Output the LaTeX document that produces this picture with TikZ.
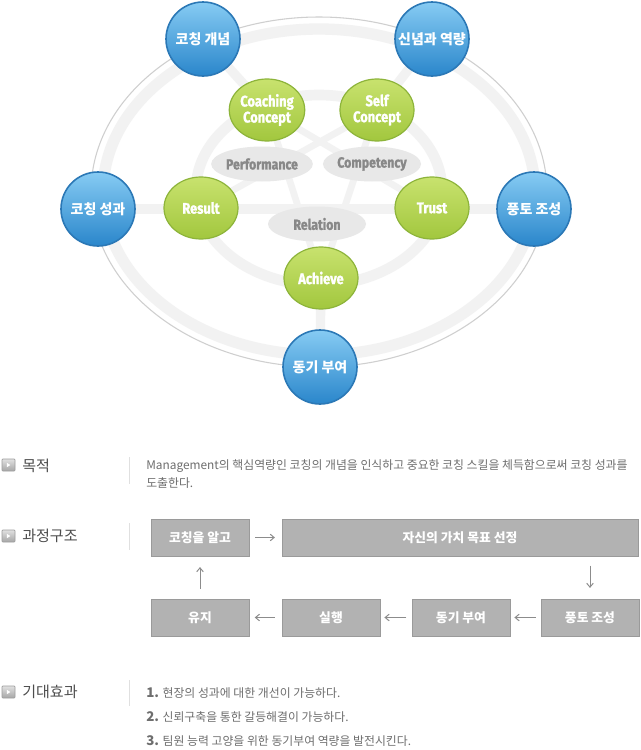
\documentclass[tikz,border=0pt]{standalone}
\usepackage{fontspec}
\setmainfont{Noto Sans CJK KR}
\newfontfamily\kr{Noto Sans CJK KR}
\newfontfamily\cond[FakeStretch=0.84,BoldFeatures={FakeBold=1.4}]{Fira Sans}
\usetikzlibrary{arrows.meta,backgrounds,shapes.geometric}
\definecolor{bandc}{HTML}{F2F2F2}
\definecolor{rimc}{HTML}{CFCFCF}
\definecolor{blueT}{HTML}{86CBF3}
\definecolor{blueB}{HTML}{2A86CB}
\definecolor{blueE}{HTML}{2B78B6}
\definecolor{greenT}{HTML}{C8E26E}
\definecolor{greenB}{HTML}{A2C73E}
\definecolor{greenE}{HTML}{8DB43A}
\definecolor{grayel}{HTML}{E8E8E8}
\definecolor{graytx}{HTML}{888888}
\definecolor{boxf}{HTML}{B2B2B2}
\definecolor{boxe}{HTML}{9A9A9A}
\definecolor{headc}{HTML}{4D4D4D}
\definecolor{descc}{HTML}{6E6E6E}
\definecolor{arrc}{HTML}{8C8C8C}
\tikzset{
  bluec/.style={circle,minimum size=74*0.75pt,inner sep=0pt,top color=blueT,bottom color=blueB,draw=blueE,line width=1.2pt,text=white,font=\kr\bfseries\fontsize{10.5}{12}\selectfont},
  greenc/.style={ellipse,minimum width=74*0.75pt,minimum height=62*0.75pt,inner sep=0pt,top color=greenT,bottom color=greenB,draw=greenE,line width=0.9pt,text=white,align=center,font=\cond\bfseries\fontsize{11.5}{12}\selectfont},
  grayc/.style={ellipse,minimum width=98*0.75pt,minimum height=35*0.75pt,inner sep=0pt,fill=grayel,text=graytx,font=\cond\bfseries\fontsize{11}{12}\selectfont},
  band/.style={draw=bandc,line width=6pt},
  thinband/.style={draw=bandc,line width=5pt},
  rim/.style={draw=rimc,line width=0.8pt},
  head/.style={anchor=west,inner sep=0pt,text=headc,font=\kr\fontsize{11.3}{13}\selectfont},
  sep/.style={draw=black!12,line width=0.6pt},
  desc/.style={anchor=west,inner sep=0pt,text=descc,font=\kr\fontsize{8.9}{10}\selectfont},
  pbox/.style={rectangle,fill=boxf,draw=boxe,line width=0.6pt,minimum height=37*0.75pt,inner sep=0pt,text=white,font=\kr\bfseries\fontsize{9.6}{11}\selectfont},
  parr/.style={draw=arrc,line width=0.75pt,-{Straight Barb[length=3pt,width=5pt]}},
  icon/.style={rectangle,minimum width=13*0.75pt,minimum height=12*0.75pt,inner sep=0pt,top color=black!12,bottom color=black!35,draw=black!38,line width=0.5pt,rounded corners=0.6pt},
}
\begin{document}
\begin{tikzpicture}[x=0.75pt,y=-0.75pt]
\useasboundingbox (0,0) rectangle (640,750);

% ---------- upper diagram: nodes ----------
\node[bluec] (bA) at (203,39) {코칭 개념};
\node[bluec] (bB) at (432,39) {신념과 역량};
\node[bluec] (bC) at (98,209) {코칭 성과};
\node[bluec] (bD) at (534,209) {풍토 조성};
\node[bluec] (bE) at (320,367) {동기 부여};

\node[grayc] (pf) at (262,164) {Performance};
\node[grayc] (cp) at (372,164) {Competency};
\node[grayc] (rl) at (317,224) {Relation};

\node[greenc] (gCC) at (267,110) {Coaching\\Concept};
\node[greenc] (gSC) at (377,110) {Self\\Concept};
\node[greenc] (gR) at (201,208) {Result};
\node[greenc] (gT) at (432,208) {Trust};
\node[greenc] (gA) at (321,278) {Achieve};

\begin{scope}[on background layer]
  \fill[white] (0,0) rectangle (640,750);
  \draw[rim] (319,192) ellipse [x radius=228, y radius=175];
  \draw[band,line width=8.5pt] (319,192) ellipse [x radius=216, y radius=163];
  \draw[band,line width=8pt] (319,190) ellipse [x radius=123, y radius=95];
  \draw[band,line width=7pt] (bC.center) -- (bD.center);
  \draw[band,line width=7pt] (bA.center) -- (gCC.center);
  \draw[band,line width=7pt] (bB.center) -- (gSC.center);
  \draw[band,line width=7pt] (bE.center) -- (gA.center);
  \draw[thinband] (gCC.center) -- (gT.center);
  \draw[thinband] (gSC.center) -- (gR.center);
  \draw[thinband] (gCC.center) -- (gA.center);
  \draw[thinband] (gSC.center) -- (gA.center);
\end{scope}

% ---------- section icons ----------
\node[icon] (i1) at (8.5,465) {};
\node[icon] (i2) at (8.5,536) {};
\node[icon] (i3) at (8.5,692) {};
\foreach \i in {i1,i2,i3}{
  \fill[white] ([xshift=-1.2pt,yshift=1.6pt]\i.center) -- ([xshift=1.4pt]\i.center) -- ([xshift=-1.2pt,yshift=-1.6pt]\i.center) -- cycle;
}

% ---------- section 1 ----------
\node[head] (h1) at (22,466) {목적};
\coordinate (s1a) at (129,457);
\coordinate (s1b) at (129,484);
\draw[sep] (s1a) -- (s1b);
\node[desc] (d1) at (146,466) {Management의 핵심역량인 코칭의 개념을 인식하고 중요한 코칭 스킬을 체득함으로써 코칭 성과를};
\node[desc] (d2) at (146,483) {도출한다.};

% ---------- section 2 ----------
\node[head] (h2) at (22,536) {과정구조};
\coordinate (s2a) at (129,523);
\coordinate (s2b) at (129,550);
\draw[sep] (s2a) -- (s2b);

\node[pbox,minimum width=98*0.75pt] (p1) at (200,537.5) {코칭을 알고};
\node[pbox,minimum width=356*0.75pt] (p2) at (460,537.5) {자신의 가치 목표 선정};
\node[pbox,minimum width=98*0.75pt] (p3) at (590,617.5) {풍토 조성};
\node[pbox,minimum width=98*0.75pt] (p4) at (461,617.5) {동기 부여};
\node[pbox,minimum width=98*0.75pt] (p5) at (331,617.5) {실행};
\node[pbox,minimum width=98*0.75pt] (p6) at (200,617.5) {유지};

\draw[parr,shorten <=4.5pt,shorten >=5pt] (p1) -- (p2);
\draw[parr,shorten <=7pt,shorten >=8pt] (p2.south -| p3.north) -- (p3.north);
\draw[parr,shorten <=3.5pt,shorten >=3pt] (p3) -- (p4);
\draw[parr,shorten <=4pt,shorten >=3pt] (p4) -- (p5);
\draw[parr,shorten <=5pt,shorten >=4pt] (p5) -- (p6);
\draw[parr,shorten <=7.5pt,shorten >=8pt] (p6) -- (p1);

% ---------- section 3 ----------
\node[head] (h3) at (22,692) {기대효과};
\coordinate (s3a) at (129,680);
\coordinate (s3b) at (129,706);
\draw[sep] (s3a) -- (s3b);
\node[desc] (l1) at (146,693) {{\bfseries\fontsize{10}{10}\selectfont 1.} 현장의 성과에 대한 개선이 가능하다.};
\node[desc] (l2) at (146,717) {{\bfseries\fontsize{10}{10}\selectfont 2.} 신뢰구축을 통한 갈등해결이 가능하다.};
\node[desc] (l3) at (146,741) {{\bfseries\fontsize{10}{10}\selectfont 3.} 팀원 능력 고양을 위한 동기부여 역량을 발전시킨다.};
\end{tikzpicture}
\end{document}
